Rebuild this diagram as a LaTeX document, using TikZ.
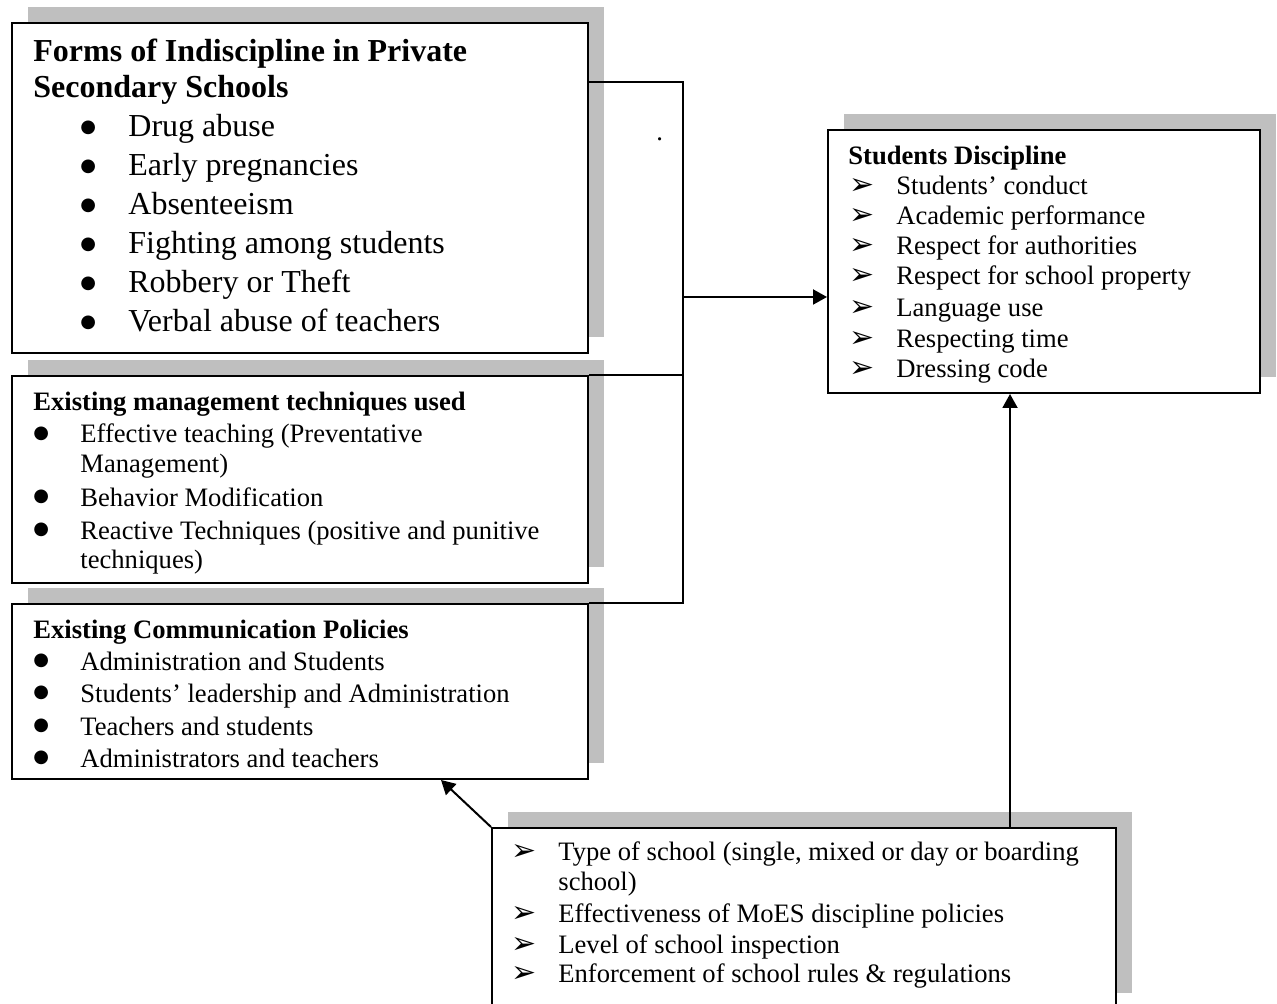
\documentclass[tikz,border=0pt]{standalone}
\usepackage{fontspec}
\setmainfont{Liberation Serif}
\newfontfamily\arrowfont{DejaVu Sans}
\usetikzlibrary{arrows.meta,shadows}

\newcommand{\bigtext}{\fontsize{16}{19}\selectfont}
\newcommand{\smalltext}{\fontsize{13.3}{16}\selectfont}
\newcommand{\dotitem}[2]{\makebox[#1][l]{\raisebox{2.2pt}{\arrowfont\fontsize{9}{9}\selectfont ●}}#2}
\newcommand{\arritem}[1]{\makebox[23.5pt][l]{\arrowfont\fontsize{15}{15}\selectfont ➢}#1}

\tikzset{
  panel/.style={draw, line width=1pt, fill=white, anchor=north west, inner sep=0pt,
    drop shadow={shadow xshift=8pt, shadow yshift=8pt, fill=black!25, opacity=1}},
  txt/.style={anchor=base west, inner sep=0pt, font=\smalltext},
  link/.style={line width=1pt},
  arrow/.style={link, -{Triangle[length=7pt, width=7.5pt]}},
}

\begin{document}
\begin{tikzpicture}[x=0.5pt, y=-0.5pt]
        \clip (0,0) rectangle (1277,1004);
        \fill[white] (0,0) rectangle (1277,1004);

        % Boxes with shadows
        \node[panel, minimum width=288pt, minimum height=165pt] (forms) at (11,22) {};
        \node[panel, minimum width=288pt, minimum height=103.5pt] (tech) at (11,375) {};
        \node[panel, minimum width=288pt, minimum height=87.5pt] (comm) at (11,603) {};
        \node[panel, minimum width=216pt, minimum height=131.5pt] (disc) at (827,129) {};
        \node[panel, minimum width=312pt, minimum height=90.5pt] (factors) at (491,827) {};

        % Forms of indiscipline
        \node[txt, font=\bigtext\bfseries] (forms-t1) at (33,62) {Forms of Indiscipline in Private};
        \node[txt, font=\bigtext\bfseries] (forms-t2) at (33,98) {Secondary Schools};
        \node[txt, font=\bigtext] (forms-1) at (80,137) {\dotitem{24pt}{Drug abuse}};
        \node[txt, font=\bigtext] (forms-2) at (80,176) {\dotitem{24pt}{Early pregnancies}};
        \node[txt, font=\bigtext] (forms-3) at (80,215) {\dotitem{24pt}{Absenteeism}};
        \node[txt, font=\bigtext] (forms-4) at (80,254) {\dotitem{24pt}{Fighting among students}};
        \node[txt, font=\bigtext] (forms-5) at (80,293) {\dotitem{24pt}{Robbery or Theft}};
        \node[txt, font=\bigtext] (forms-6) at (80,332) {\dotitem{24pt}{Verbal abuse of teachers}};

        % Management techniques
        \node[txt, font=\smalltext\bfseries] (tech-t) at (33,411) {Existing management techniques used};
        \node[txt] (tech-1) at (33,443) {\dotitem{23.5pt}{Effective teaching (Preventative}};
        \node[txt] (tech-1b) at (80,473) {Management)};
        \node[txt] (tech-2) at (33,506) {\dotitem{23.5pt}{Behavior Modification}};
        \node[txt] (tech-3) at (33,539) {\dotitem{23.5pt}{Reactive Techniques (positive and punitive}};
        \node[txt] (tech-3b) at (80,568) {techniques)};

        % Communication policies
        \node[txt, font=\smalltext\bfseries] (comm-t) at (33,638) {Existing Communication Policies};
        \node[txt] (comm-1) at (33,670) {\dotitem{23.5pt}{Administration and Students}};
        \node[txt] (comm-2) at (33,702) {\dotitem{23.5pt}{Students’ leadership and Administration}};
        \node[txt] (comm-3) at (33,735) {\dotitem{23.5pt}{Teachers and students}};
        \node[txt] (comm-4) at (33,767) {\dotitem{23.5pt}{Administrators and teachers}};

        % Students discipline
        \node[txt, font=\smalltext\bfseries] (disc-t) at (848,165) {Students Discipline};
        \node[txt] (disc-1) at (849,195) {\arritem{Students’ conduct}};
        \node[txt] (disc-2) at (849,225) {\arritem{Academic performance}};
        \node[txt] (disc-3) at (849,255) {\arritem{Respect for authorities}};
        \node[txt] (disc-4) at (849,285) {\arritem{Respect for school property}};
        \node[txt] (disc-5) at (849,317) {\arritem{Language use}};
        \node[txt] (disc-6) at (849,348) {\arritem{Respecting time}};
        \node[txt] (disc-7) at (849,378) {\arritem{Dressing code}};

        % School factors
        \node[txt] (fact-1) at (511,860) {\arritem{Type of school (single, mixed or day or boarding}};
        \node[txt] (fact-1b) at (558,890) {school)};
        \node[txt] (fact-2) at (511,922) {\arritem{Effectiveness of MoES discipline policies}};
        \node[txt] (fact-3) at (511,953) {\arritem{Level of school inspection}};
        \node[txt] (fact-4) at (511,982) {\arritem{Enforcement of school rules \& regulations}};

        \node[txt] (dot) at (656,141) {.};

        % Connectors
        \coordinate (spine) at (683,297);
        \draw[link] ([yshift=-30pt]forms.north east) -| (spine |- comm.north) -- (comm.north east);
        \draw[link] (tech.north east) -- (tech.north east -| spine);
        \draw[arrow] (spine) -- (spine -| disc.west);

        \coordinate (rise) at ([xshift=103pt]factors.north);
        \draw[arrow] (rise) -- (rise |- disc.south);
        \draw[arrow] (factors.north west) -- ([xshift=70.5pt]comm.south);

    \end{tikzpicture}
\end{document}
